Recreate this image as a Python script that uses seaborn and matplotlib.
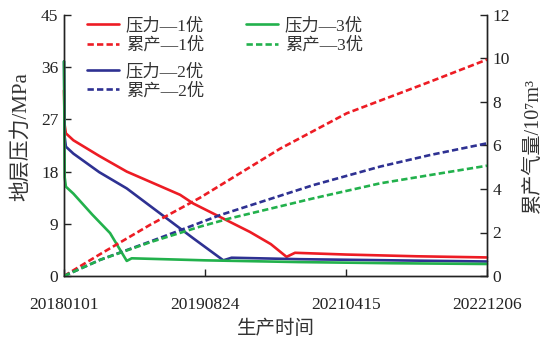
import numpy as np
import pandas as pd
import matplotlib
matplotlib.use("Agg")
import matplotlib.pyplot as plt
import seaborn as sns

# ---- data -------------------------------------------------------------
start_date = "2018-01-01"
tick_dates = ["2018-01-01", "2019-08-24", "2021-04-15", "2022-12-06"]
tick_labels = ["20180101", "20190824", "20210415", "20221206"]

# formation pressure (MPa) vs production day
p1_days = [0, 3, 8, 40, 150, 267, 494, 550, 678, 791, 880, 947, 983, 1200, 1500, 1800]
p1_vals = [32, 26.0, 24.6, 23.4, 20.7, 18.0, 14.0, 12.5, 9.9, 7.6, 5.5, 3.3, 4.0, 3.7, 3.4, 3.2]

p2_days = [0, 3, 8, 40, 150, 267, 550, 678, 713, 1000, 1400, 1800]
p2_vals = [37, 24.0, 22.3, 21.1, 17.9, 15.1, 6.5, 2.7, 3.15, 2.9, 2.7, 2.5]

p3_days = [0, 3, 8, 40, 120, 196, 267, 288, 600, 1000, 1400, 1800]
p3_vals = [37, 17.0, 15.4, 14.2, 10.6, 7.4, 2.6, 3.05, 2.7, 2.4, 2.2, 2.07]

# cumulative gas production (1e7 m^3) vs production day
q1_days = [0, 153, 366, 494, 579, 919, 1203, 1557, 1800]
q1_vals = [0, 1.0, 2.35, 3.1, 3.6, 5.85, 7.48, 8.93, 9.95]

q2_days = [0, 153, 366, 579, 664, 1061, 1345, 1557, 1800]
q2_vals = [0, 0.74, 1.58, 2.45, 2.8, 4.18, 5.03, 5.56, 6.1]

q3_days = [0, 153, 366, 579, 706, 1061, 1345, 1557, 1800]
q3_vals = [0, 0.74, 1.55, 2.27, 2.65, 3.57, 4.26, 4.64, 5.07]

labels_p = ["压力—1优", "压力—2优", "压力—3优"]
labels_q = ["累产—1优", "累产—2优", "累产—3优"]
colors = ["#ED1C24", "#2E3192", "#22B14C"]

# ---- style ------------------------------------------------------------
sns.set_theme(style="ticks")
plt.rcParams["font.family"] = ["Liberation Serif", "Noto Sans CJK SC", "DejaVu Sans"]
plt.rcParams["axes.linewidth"] = 1.0

fig = plt.figure(figsize=(5.42, 3.42), dpi=100)
ax = fig.add_axes([64 / 542, 1 - 276 / 342, 423 / 542, 261 / 342])
ax2 = ax.twinx()

lw = 1.9
dash = (2.4, 1.2)

p_sets = [(p1_days, p1_vals), (p2_days, p2_vals), (p3_days, p3_vals)]
q_sets = [(q1_days, q1_vals), (q2_days, q2_vals), (q3_days, q3_vals)]

handles_p, handles_q = [], []
for (d, v), c, lab in zip(p_sets, colors, labels_p):
    sns.lineplot(x=d, y=v, ax=ax, color=c, linewidth=lw, label=lab, legend=False)
    line = ax.lines[-1]
    line.set_clip_on(False)
    line.set_zorder(5)
    handles_p.append(line)
for (d, v), c, lab in zip(q_sets, colors, labels_q):
    sns.lineplot(x=d, y=v, ax=ax2, color=c, linewidth=lw, label=lab, legend=False)
    line = ax2.lines[-1]
    line.set_dashes(dash)
    handles_q.append(line)

# ---- axes -------------------------------------------------------------
t0 = pd.Timestamp(start_date)
tick_pos = [(pd.Timestamp(s) - t0).days for s in tick_dates]

ax.set_xlim(0, 1800)
ax.set_ylim(0, 45)
ax2.set_ylim(0, 12)
ax.set_xticks(tick_pos)
ax.set_xticklabels(tick_labels)
ax.set_yticks(np.arange(0, 46, 9))
ax2.set_yticks(np.arange(0, 13, 2))

for a in (ax, ax2):
    a.tick_params(direction="in", length=5, width=1.0, labelsize=12.5,
                  colors="#222222", pad=4)
    a.spines["top"].set_visible(False)
    for s in a.spines.values():
        s.set_color("#222222")
ax.tick_params(axis="x", pad=15)

ax.set_xlabel("生产时间", fontsize=14, color="#333333", labelpad=5)
ax.set_ylabel("地层压力/MPa", fontsize=15, color="#333333")
ax2.set_ylabel("累产气量/10⁷m³", fontsize=14.5, color="#333333")
ax.yaxis.set_label_coords(-0.079, 0.535)
ax2.yaxis.set_label_coords(1.087, 0.5)

# ---- legends ----------------------------------------------------------
leg_kw = dict(frameon=False, fontsize=12.5, handlelength=1.85, handletextpad=0.4,
              borderpad=0, borderaxespad=0, labelspacing=0.15, loc="upper left",
              labelcolor="#333333")
leg1 = ax2.legend([handles_p[0], handles_q[0], handles_p[2], handles_q[2]],
                  [labels_p[0], labels_q[0], labels_p[2], labels_q[2]],
                  ncol=2, columnspacing=2.4, bbox_to_anchor=(0.054, 0.99), **leg_kw)
ax2.add_artist(leg1)
leg2 = ax2.legend([handles_p[1], handles_q[1]], [labels_p[1], labels_q[1]],
                  bbox_to_anchor=(0.054, 0.815), **leg_kw)

fig.savefig("out.png", dpi=100)
